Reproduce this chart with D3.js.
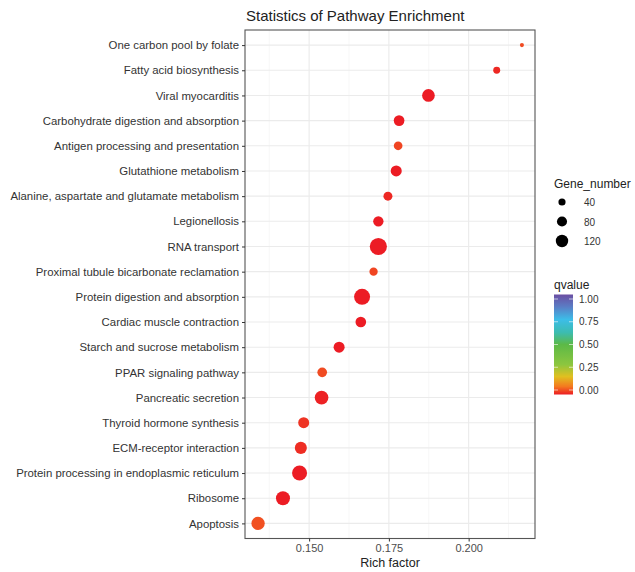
<!DOCTYPE html>
<html><head><meta charset="utf-8">
<script src="https://cdn.jsdelivr.net/npm/d3@7"></script>
<style>body{margin:0;background:#fff;font-family:"Liberation Sans",Arial,sans-serif;}</style>
</head><body><svg id="c" width="635" height="572"></svg>
<script>
const pathways = ["One carbon pool by folate","Fatty acid biosynthesis","Viral myocarditis","Carbohydrate digestion and absorption","Antigen processing and presentation","Glutathione metabolism","Alanine, aspartate and glutamate metabolism","Legionellosis","RNA transport","Proximal tubule bicarbonate reclamation","Protein digestion and absorption","Cardiac muscle contraction","Starch and sucrose metabolism","PPAR signaling pathway","Pancreatic secretion","Thyroid hormone synthesis","ECM-receptor interaction","Protein processing in endoplasmic reticulum","Ribosome","Apoptosis"];
const richFactor = [0.2167,0.2088,0.1874,0.1782,0.1779,0.1773,0.1747,0.1717,0.1717,0.1702,0.1666,0.1662,0.1594,0.1541,0.1539,0.1483,0.1474,0.1470,0.1418,0.1340];
const geneNumber = [13,38,125,89,59,95,63,83,230,54,200,89,95,73,147,95,113,176,153,139];
const qvalue = [0.04,0.01,0.0,0.0,0.035,0.0,0.01,0.0,0.0,0.035,0.0,0.0,0.0,0.04,0.005,0.02,0.015,0.0,0.0,0.045];
const xTicks = [0.150,0.175,0.200];
const sizeBreaks = [40,80,120];
const qBreaks = [0.00,0.25,0.50,0.75,1.00];
const qStops = [0,0.08,0.18,0.3,0.5,0.62,0.75,0.88,1];
const qColors = ["#ec1c24","#f4791f","#e0c020","#8cc63f","#5cb947","#3cbcb0","#3cbde8","#5b7cc4","#6a4ea2"];

const svg = d3.select("#c");
const L=245, R=535, T=30, B=538.5;
const x = d3.scaleLinear().domain([0.1299,0.2208]).range([L,R]);
const y = d3.scalePoint().domain(pathways).range([T,B]).padding(0.6);
const r = d3.scaleSqrt().domain([0,120]).range([0,6.2]);
const col = d3.scaleLinear().domain(qStops).range(qColors);

svg.append("rect").attr("x",L).attr("y",T).attr("width",R-L).attr("height",B-T).attr("fill","#fff");
const minor = [0.1375,0.1625,0.1875,0.2125];
svg.selectAll(".mg").data(minor).enter().append("line").attr("x1",d=>x(d)).attr("x2",d=>x(d)).attr("y1",T).attr("y2",B).attr("stroke","#f2f2f2").attr("stroke-width",0.6);
svg.selectAll(".gx").data(xTicks).enter().append("line").attr("x1",d=>x(d)).attr("x2",d=>x(d)).attr("y1",T).attr("y2",B).attr("stroke","#ebebeb").attr("stroke-width",1.1);
svg.selectAll(".gy").data(pathways).enter().append("line").attr("x1",L).attr("x2",R).attr("y1",d=>y(d)).attr("y2",d=>y(d)).attr("stroke","#ebebeb").attr("stroke-width",1.1);

svg.selectAll(".pt").data(pathways).enter().append("circle")
  .attr("cx",(d,i)=>x(richFactor[i])).attr("cy",d=>y(d)).attr("r",(d,i)=>r(geneNumber[i]))
  .attr("fill",(d,i)=>col(qvalue[i]));

svg.append("rect").attr("x",L).attr("y",T).attr("width",R-L).attr("height",B-T).attr("fill","none").attr("stroke","#555").attr("stroke-width",1.1);

const ya = svg.append("g").attr("transform",`translate(${L},0)`).call(d3.axisLeft(y).tickSize(3).tickPadding(3));
ya.select(".domain").remove();
ya.selectAll("line").attr("stroke","#333");
ya.selectAll("text").attr("font-size",11.4).attr("fill","#333").attr("font-family","Liberation Sans, Arial, sans-serif");
const xa = svg.append("g").attr("transform",`translate(0,${B})`).call(d3.axisBottom(x).tickValues(xTicks).tickFormat(d3.format(".3f")).tickSize(3).tickPadding(3));
xa.select(".domain").remove();
xa.selectAll("line").attr("stroke","#333");
xa.selectAll("text").attr("font-size",11).attr("fill","#4d4d4d").attr("font-family","Liberation Sans, Arial, sans-serif");

svg.append("text").attr("x",(L+R)/2).attr("y",567).attr("text-anchor","middle").attr("font-size",12.5).attr("fill","#222").text("Rich factor");
svg.append("text").attr("x",L+1).attr("y",21).attr("text-anchor","start").attr("font-size",15).attr("fill","#222").text("Statistics of Pathway Enrichment");

svg.append("text").attr("x",554).attr("y",188).attr("font-size",12).attr("fill","#222").text("Gene_number");
const sy = d3.scalePoint().domain(sizeBreaks).range([202,241]);
sizeBreaks.forEach(v=>{
  svg.append("circle").attr("cx",562).attr("cy",sy(v)).attr("r",r(v)).attr("fill","#000");
  svg.append("text").attr("x",584).attr("y",sy(v)+4).attr("font-size",10).attr("fill","#333").text(v);
});

svg.append("text").attr("x",554).attr("y",289).attr("font-size",12).attr("fill","#222").text("qvalue");
const defs = svg.append("defs");
const grad = defs.append("linearGradient").attr("id","qg").attr("x1",0).attr("y1",1).attr("x2",0).attr("y2",0);
qStops.forEach((s,i)=>grad.append("stop").attr("offset",s).attr("stop-color",qColors[i]));
const cb = d3.scaleLinear().domain([0,1]).range([390,299]);
svg.append("rect").attr("x",554).attr("y",294.5).attr("width",19).attr("height",100).attr("fill","url(#qg)");
qBreaks.forEach(v=>{
  svg.append("line").attr("x1",554).attr("x2",558).attr("y1",cb(v)).attr("y2",cb(v)).attr("stroke","#fff").attr("stroke-width",0.6);
  svg.append("line").attr("x1",569).attr("x2",573).attr("y1",cb(v)).attr("y2",cb(v)).attr("stroke","#fff").attr("stroke-width",0.6);
  svg.append("text").attr("x",579).attr("y",cb(v)+3.5).attr("font-size",10).attr("fill","#333").text(d3.format(".2f")(v));
});
</script></body></html>
